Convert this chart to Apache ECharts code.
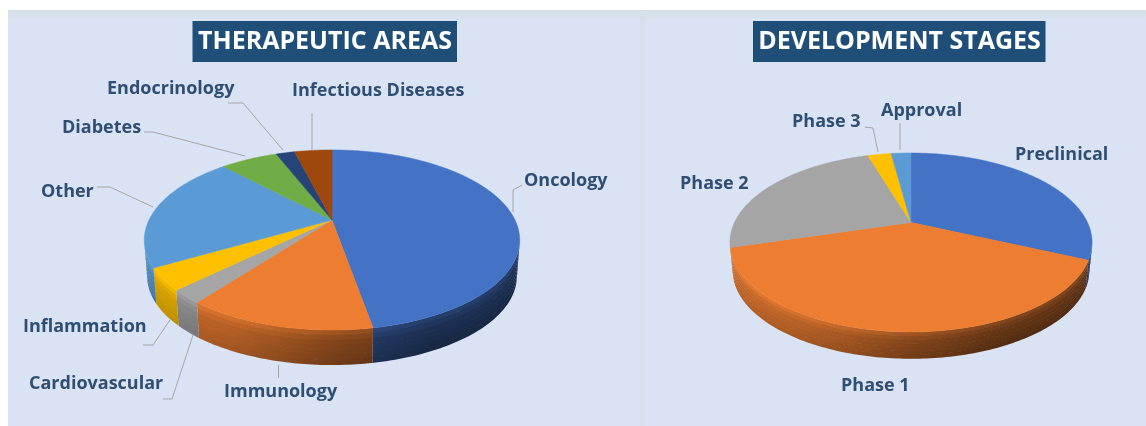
<!DOCTYPE html>
<html><head><meta charset="utf-8">
<style>html,body{margin:0;padding:0;background:#fff}#c{width:1146px;height:426px;filter:blur(0.55px)}</style>
<script src="https://cdn.jsdelivr.net/npm/echarts@6/dist/echarts.min.js"></script>
</head><body><div id="c"></div>
<script>
// ---- data ----
const areaNames = ['Oncology','Immunology','Cardiovascular','Inflammation','Other','Diabetes','Endocrinology','Infectious Diseases'];
const areaValues = [47.2,13.2,2.4,3.9,21.2,6.1,2.0,4.0];
const areaColors = ['#4472c4','#ed7d31','#a5a5a5','#ffc000','#5b9bd5','#70ad47','#264478','#9e480e'];
const stageNames = ['Preclinical','Phase 1','Phase 2','Phase 3','Approval'];
const stageValues = [31.6,38.9,24.6,2.6,2.2];
const stageColors = ['#4472c4','#ed7d31','#a5a5a5','#ffc000','#5b9bd5'];
// ---- layout ----
const areaGeom = {apex:[332,220],A:183,B:85.6,k:0.222,depth:36,shrink:0.985};
const stageGeom = {apex:[911,222.5],A:176.5,B:85,k:0.223,depth:28,shrink:0.985};
const areaLabels = {Oncology:[524,181],'Infectious Diseases':[292,91],Endocrinology:[107,88.5],Diabetes:[62,128],Other:[41,192],Inflammation:[23,327],Cardiovascular:[29,384],Immunology:[224,392]};
const stageLabels = {Preclinical:[1015,155],'Phase 2':[680,184],'Phase 3':[792,122],Approval:[881,111],'Phase 1':[841,386]};
const leaders = [
 [[513,212],[513,190],[522,185]],[[312,113],[312,150]],[[228,103],[243,103],[283,150]],
 [[144,132],[153,132],[245,156]],[[97,187],[110,187],[153,207]],[[143,345],[153,345],[170,320]],
 [[163,399],[172,399],[193,335]],[[278.5,365],[278.5,378]],
 [[865,127],[873,128],[878,152]],[[900,123],[900,150]]
];
const labelColor='#2f4e73', titleBg='#1f4e79', leaderColor='#a6a6a6', font='"Open Sans"';
const labelSize=18, titleSize=25, bands=7;

function rim(g,deg){const t=deg*Math.PI/180,u=Math.sin(t),v=-Math.cos(t),w=1-g.k*v;
  return [g.apex[0]+g.A*u/w, g.apex[1]+g.B*v/w];}
function down(g,p,t){const s=1+(g.shrink-1)*t;return [g.apex[0]+(p[0]-g.apex[0])*s, g.apex[1]+(p[1]-g.apex[1])*s+g.depth*t];}
function mix(hex,f){const n=parseInt(hex.slice(1),16);const c=[n>>16,(n>>8)&255,n&255].map(x=>Math.round(f<1?x*f:x+(255-x)*(f-1)));return `rgb(${c})`;}
// wall brightness: bright at the left of the disc, dark to the right
const shadeStops=[[-1,0.86],[-0.5,0.76],[0,0.56],[0.5,0.43],[1,0.43]];
function shade(g,x){const f=Math.max(-1,Math.min(1,(x-g.apex[0])/(g.A*1.03)));
  for(let i=1;i<shadeStops.length;i++){const a=shadeStops[i-1],b=shadeStops[i];if(f<=b[0])return a[1]+(b[1]-a[1])*(f-a[0])/(b[0]-a[0]);}return 0.43;}
const bandLift=t=>t<0.3?(0.3-t)*0.5:-(t-0.3)*0.12;

function pieSeries(values,colors,g){
  const total=values.reduce((a,b)=>a+b,0);
  const starts=[];values.reduce((a,b,i)=>(starts[i]=a,a+b),0);
  return [{ // walls
    type:'custom',coordinateSystem:'none',silent:true,z:2,
    data:values.map((v,i)=>[v,starts[i]]),
    renderItem(params,api){
      const i=params.dataIndex,a0=api.value(1)/total*360,a1=a0+api.value(0)/total*360,ch=[];
      const arc=[];
      for(let a=a0;a<=a1;a+=1){
        const b=Math.min(a+1,a1),p=rim(g,a),q=rim(g,b);
        if(q[0]<p[0]){ if(!arc.length)arc.push(p); arc.push(q); }
        if(b===a1)break;
      }
      if(arc.length<2)return {type:'group',children:[]};
      const xs=arc.map(p=>p[0]),x0=Math.min(...xs),x1=Math.max(...xs),c=colors[i];
      for(let j=0;j<bands;j++){
        const t0=j/bands,t1=(j+1)/bands,tm=(t0+t1)/2,stops=[];
        for(let o=0;o<=10;o++)stops.push({offset:o/10,color:mix(c,shade(g,x0+(x1-x0)*o/10)+bandLift(tm))});
        const pts=arc.map(p=>down(g,p,t0)).concat(arc.slice().reverse().map(p=>down(g,p,t1+0.02)));
        ch.push({type:'polygon',shape:{points:pts},style:{fill:new echarts.graphic.LinearGradient(0,0,1,0,stops)}});
      }
      return {type:'group',children:ch};
    }
  },{ // top face
    type:'custom',coordinateSystem:'none',silent:true,z:3,
    data:values.map((v,i)=>[v,starts[i]]),
    renderItem(params,api){
      const i=params.dataIndex,a0=api.value(1)/total*360,a1=a0+api.value(0)/total*360,pts=[g.apex];
      for(let a=a0;a<a1;a+=1)pts.push(rim(g,a));
      pts.push(rim(g,a1));
      return {type:'polygon',shape:{points:pts},style:{fill:colors[i],stroke:colors[i],lineWidth:0.5}};
    }
  }];
}
const panelTop=new echarts.graphic.LinearGradient(0,0,0,1,[{offset:0,color:'#d5dfe6'},{offset:0.6,color:'#d7e1ec'},{offset:1,color:'#dae3f3'}]);
const graphics=[
 {type:'rect',z:0,silent:true,shape:{x:8,y:10,width:1138,height:416},style:{fill:'#dae3f3'}},
 {type:'rect',z:0,silent:true,shape:{x:8,y:10,width:1138,height:10},style:{fill:panelTop}},
 {type:'rect',z:0,silent:true,shape:{x:640,y:10,width:5,height:416},style:{fill:'#d5e0ea'}},
 {type:'rect',z:1,silent:true,shape:{x:192.5,y:21,width:264.5,height:41},style:{fill:titleBg}},
 {type:'rect',z:1,silent:true,shape:{x:753,y:21,width:292.5,height:41},style:{fill:titleBg}},
 {type:'text',z:10,silent:true,x:325,y:41.5,style:{text:'THERAPEUTIC AREAS',fill:'#fff',font:`bold ${titleSize}px ${font}`,align:'center',verticalAlign:'middle'}},
 {type:'text',z:10,silent:true,x:899.5,y:41.5,style:{text:'DEVELOPMENT STAGES',fill:'#fff',font:`bold ${titleSize}px ${font}`,align:'center',verticalAlign:'middle'}},
];
leaders.forEach(p=>graphics.push({type:'polyline',z:9,silent:true,shape:{points:p},style:{stroke:leaderColor,lineWidth:1,fill:null}}));
[[areaNames,areaLabels],[stageNames,stageLabels]].forEach(([names,pos])=>names.forEach(n=>
  graphics.push({type:'text',z:10,silent:true,x:pos[n][0],y:pos[n][1],style:{text:n,fill:labelColor,font:`bold ${labelSize}px ${font}`,verticalAlign:'middle'}})));
const chart=echarts.init(document.getElementById('c'),null,{renderer:'canvas'});
chart.setOption({animation:false,backgroundColor:'#fff',graphic:{elements:graphics},
  series:[...pieSeries(areaValues,areaColors,areaGeom),...pieSeries(stageValues,stageColors,stageGeom)]});
</script></body></html>
